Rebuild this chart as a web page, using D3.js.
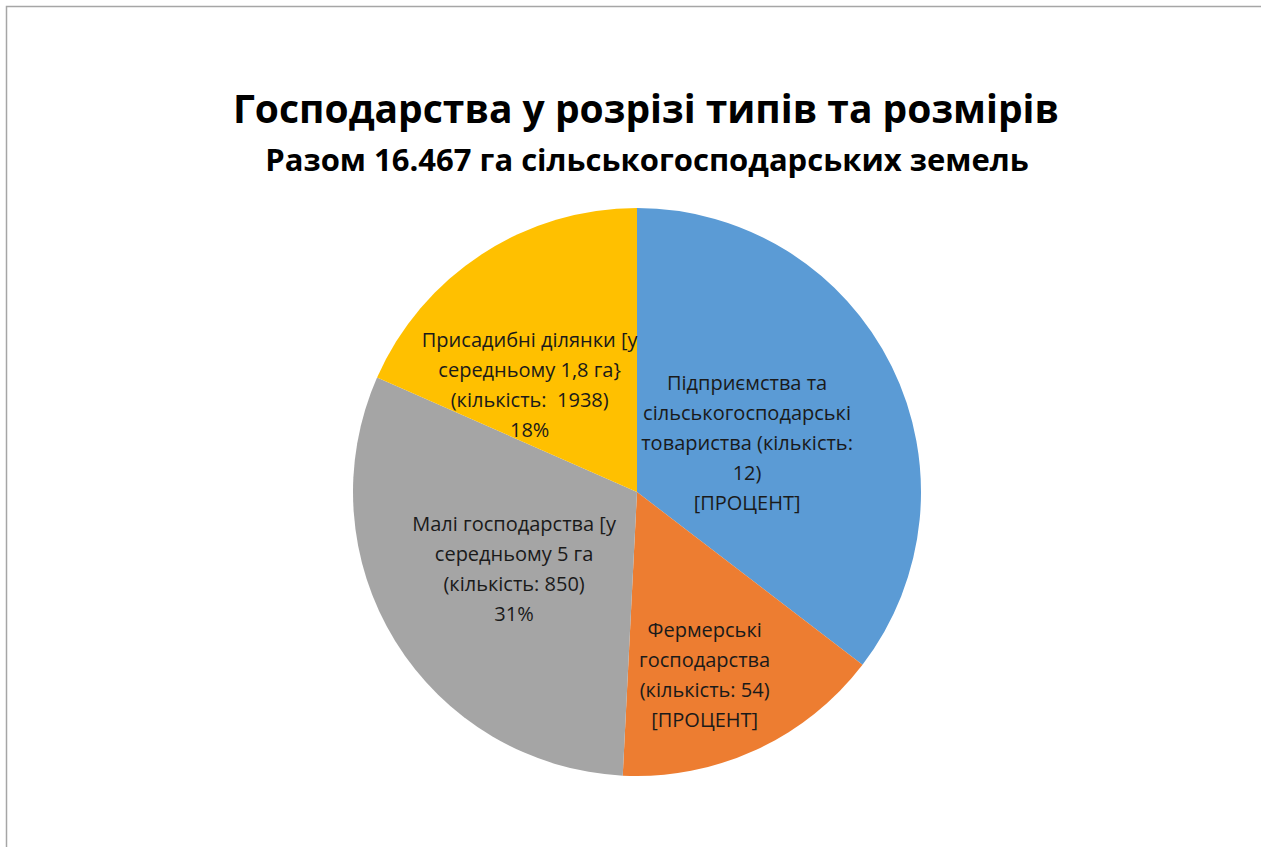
<!DOCTYPE html>
<html>
<head>
<meta charset="utf-8">
<script src="https://cdn.jsdelivr.net/npm/d3@7"></script>
<style>
  html, body { margin: 0; padding: 0; background: #fff; }
  svg { display: block; }
  text { white-space: pre; }
</style>
</head>
<body>
<svg id="chart" width="1261" height="847"></svg>
<script>
// ---- data ----
const titleText = "Господарства у розрізі типів та розмірів";
const subtitleText = "Разом 16.467 га сільськогосподарських земель";
const categories = [
  "Підприємства та сільськогосподарські товариства",
  "Фермерські господарства",
  "Малі господарства",
  "Присадибні ділянки"
];
const shares = [35.4, 15.4, 30.8, 18.4];
const labelLines = [
  ["Підприємства та", "сільськогосподарські", "товариства (кількість:", "12)", "[ПРОЦЕНТ]"],
  ["Фермерські", "господарства", "(кількість: 54)", "[ПРОЦЕНТ]"],
  ["Малі господарства [у", "середньому 5 га", "(кількість: 850)", "31%"],
  ["Присадибні ділянки [у", "середньому 1,8 га}", "(кількість:  1938)", "18%"]
];
const colors = ["#5B9BD5", "#ED7D31", "#A5A5A5", "#FFC000"];

// ---- layout ----
const W = 1261, H = 847;
const cx = 637, cy = 492, R = 284;
const labelNudge = [[-30, 20], [2, 41], [10, -5], [-22, 24]];
const lineH = 30;
const font = "'Open Sans', 'Noto Sans', sans-serif";

const svg = d3.select("#chart");

// frame
svg.append("rect")
  .attr("x", 6.5).attr("y", 6.5)
  .attr("width", W + 10).attr("height", H + 10)
  .attr("fill", "#fff").attr("stroke", "#A6A6A6").attr("stroke-width", 1.5);

// titles
svg.append("text")
  .attr("x", 646).attr("y", 123)
  .attr("text-anchor", "middle")
  .attr("font-family", font).attr("font-weight", 700)
  .attr("font-size", 39).attr("fill", "#000")
  .text(titleText);
svg.append("text")
  .attr("x", 647).attr("y", 171)
  .attr("text-anchor", "middle")
  .attr("font-family", font).attr("font-weight", 700)
  .attr("font-size", 31).attr("fill", "#000")
  .text(subtitleText);

// pie
const pie = d3.pie().sort(null).value(d => d.value);
const data = categories.map((c, i) => ({ name: c, value: shares[i], i }));
const arcs = pie(data);
const arc = d3.arc().innerRadius(0).outerRadius(R);
const labelArc = d3.arc().innerRadius(R * 0.55).outerRadius(R * 0.55);

const g = svg.append("g").attr("transform", `translate(${cx},${cy})`);
g.selectAll("path.slice")
  .data(arcs)
  .join("path")
  .attr("class", "slice")
  .attr("d", arc)
  .attr("fill", d => colors[d.data.i]);

const labels = g.selectAll("g.lbl")
  .data(arcs)
  .join("g")
  .attr("class", "lbl")
  .attr("transform", d => {
    const [x, y] = labelArc.centroid(d);
    const n = labelNudge[d.data.i];
    return `translate(${x + n[0]},${y + n[1]})`;
  });

labels.each(function(d) {
  const lines = labelLines[d.data.i];
  const t = d3.select(this).append("text")
    .attr("text-anchor", "middle")
    .attr("font-family", font)
    .attr("font-size", 20)
    .attr("fill", "#1a1a1a");
  const y0 = -((lines.length - 1) * lineH) / 2 + 7;
  lines.forEach((ln, k) => {
    t.append("tspan").attr("x", 0).attr("y", y0 + k * lineH).text(ln);
  });
});
</script>
</body>
</html>
